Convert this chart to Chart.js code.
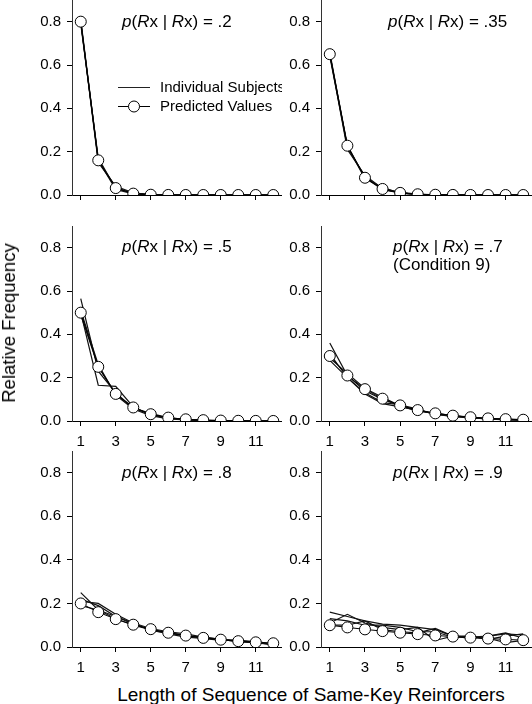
<!DOCTYPE html>
<html>
<head>
<meta charset="utf-8">
<script src="https://cdn.jsdelivr.net/npm/chart.js@4.4.1/dist/chart.umd.min.js"></script>
<style>
  html, body { margin: 0; padding: 0; background: #fff; }
  #wrap { position: relative; width: 532px; height: 704px; overflow: hidden; font-family: "Liberation Sans", Arial, sans-serif; color: #000; }
  canvas { position: absolute; }
  .ann { position: absolute; font-size: 17px; line-height: 18px; white-space: nowrap; }
  #ytitle { position: absolute; left: 9px; top: 323px; font-size: 18.5px; white-space: nowrap; transform: translate(-50%, -50%) rotate(-90deg); }
  #xtitle { position: absolute; left: 311px; top: 695px; font-size: 19px; white-space: nowrap; transform: translate(-50%, -50%); }
</style>
</head>
<body>
<div id="wrap">
  <canvas id="c1" width="282" height="225" style="left:0px;top:0px"></canvas>
  <canvas id="c2" width="283" height="225" style="left:249px;top:0px"></canvas>
  <canvas id="c3" width="282" height="225" style="left:0px;top:226px"></canvas>
  <canvas id="c4" width="283" height="225" style="left:249px;top:226px"></canvas>
  <canvas id="c5" width="282" height="226" style="left:0px;top:451px"></canvas>
  <canvas id="c6" width="283" height="226" style="left:249px;top:451px"></canvas>

  <div class="ann" style="left:122px;top:13px"><i>p</i>(<i>R</i>x | <i>R</i>x) = .2</div>
  <div class="ann" style="left:388px;top:13px"><i>p</i>(<i>R</i>x | <i>R</i>x) = .35</div>
  <div class="ann" style="left:122px;top:238px"><i>p</i>(<i>R</i>x | <i>R</i>x) = .5</div>
  <div class="ann" style="left:393px;top:238px"><i>p</i>(<i>R</i>x | <i>R</i>x) = .7<br>(Condition 9)</div>
  <div class="ann" style="left:122px;top:464px"><i>p</i>(<i>R</i>x | <i>R</i>x) = .8</div>
  <div class="ann" style="left:393px;top:464px"><i>p</i>(<i>R</i>x | <i>R</i>x) = .9</div>

  <div id="ytitle">Relative Frequency</div>
  <div id="xtitle">Length of Sequence of Same-Key Reinforcers</div>
</div>
<script>
// ---- categories / ticks ----
const lengths = [1, 2, 3, 4, 5, 6, 7, 8, 9, 10, 11, 12];
const xTickValues = [1, 3, 5, 7, 9, 11];
const yTickValues = [0, 0.2, 0.4, 0.6, 0.8];

// ---- p = .2 ----
const pred20 = [0.8, 0.16, 0.032, 0.0064, 0.0013, 0.0003, 0.0001, 0, 0, 0, 0, 0];
const subj20a = [0.80, 0.16, 0.035, 0.006, 0.001, 0, 0, 0, 0, 0, 0, 0];
const subj20b = [0.79, 0.17, 0.030, 0.008, 0.002, 0, 0, 0, 0, 0, 0, 0];
const subj20c = [0.80, 0.15, 0.040, 0.010, 0.002, 0, 0, 0, 0, 0, 0, 0];
const subj20d = [0.81, 0.16, 0.025, 0.005, 0.001, 0, 0, 0, 0, 0, 0, 0];

// ---- p = .35 ----
const pred35 = [0.65, 0.2275, 0.0796, 0.0279, 0.0098, 0.0034, 0.0012, 0.0004, 0.0001, 0, 0, 0];
const subj35a = [0.65, 0.23, 0.080, 0.025, 0.010, 0.003, 0.001, 0, 0, 0, 0, 0];
const subj35b = [0.65, 0.21, 0.090, 0.030, 0.012, 0.004, 0.001, 0, 0, 0, 0, 0];
const subj35c = [0.64, 0.225, 0.075, 0.035, 0.008, 0.002, 0.001, 0, 0, 0, 0, 0];
const subj35d = [0.66, 0.22, 0.085, 0.027, 0.010, 0.003, 0.001, 0, 0, 0, 0, 0];

// ---- p = .5 ----
const pred50 = [0.5, 0.25, 0.125, 0.0625, 0.0313, 0.0156, 0.0078, 0.0039, 0.002, 0.001, 0.0005, 0.0002];
const subj50a = [0.565, 0.23, 0.13, 0.060, 0.030, 0.012, 0.006, 0.003, 0.001, 0, 0, 0];
const subj50b = [0.50, 0.165, 0.16, 0.065, 0.028, 0.015, 0.005, 0.002, 0.001, 0, 0, 0];
const subj50c = [0.49, 0.25, 0.125, 0.060, 0.035, 0.015, 0.008, 0.004, 0.002, 0.001, 0, 0];
const subj50d = [0.51, 0.26, 0.12, 0.055, 0.025, 0.010, 0.005, 0.002, 0.001, 0, 0, 0];

// ---- p = .7 ----
const pred70 = [0.3, 0.21, 0.147, 0.103, 0.072, 0.0504, 0.0353, 0.0247, 0.0173, 0.0121, 0.0085, 0.0059];
const subj70a = [0.36, 0.21, 0.14, 0.10, 0.070, 0.050, 0.035, 0.025, 0.016, 0.010, 0.006, 0.004];
const subj70b = [0.28, 0.20, 0.13, 0.085, 0.075, 0.055, 0.030, 0.022, 0.015, 0.010, 0.008, 0.005];
const subj70c = [0.29, 0.22, 0.15, 0.11, 0.070, 0.045, 0.035, 0.025, 0.018, 0.012, 0.009, 0.006];
const subj70d = [0.31, 0.20, 0.125, 0.08, 0.065, 0.050, 0.032, 0.020, 0.014, 0.010, 0.005, 0.003];

// ---- p = .8 ----
const pred80 = [0.2, 0.16, 0.128, 0.1024, 0.0819, 0.0655, 0.0524, 0.0419, 0.0336, 0.0268, 0.0215, 0.0172];
const subj80a = [0.25, 0.17, 0.13, 0.10, 0.080, 0.065, 0.050, 0.045, 0.035, 0.025, 0.020, 0.012];
const subj80b = [0.21, 0.20, 0.15, 0.11, 0.085, 0.070, 0.060, 0.045, 0.035, 0.030, 0.020, 0.015];
const subj80c = [0.19, 0.17, 0.14, 0.11, 0.075, 0.065, 0.055, 0.040, 0.030, 0.030, 0.025, 0.015];
const subj80d = [0.22, 0.19, 0.14, 0.105, 0.080, 0.060, 0.045, 0.040, 0.035, 0.025, 0.020, 0.010];

// ---- p = .9 ----
const pred90 = [0.1, 0.09, 0.081, 0.0729, 0.0656, 0.059, 0.0531, 0.0478, 0.043, 0.0387, 0.0349, 0.0314];
const subj90a = [0.16, 0.14, 0.12, 0.105, 0.10, 0.09, 0.08, 0.05, 0.045, 0.05, 0.06, 0.055];
const subj90b = [0.11, 0.15, 0.11, 0.09, 0.08, 0.09, 0.03, 0.05, 0.04, 0.05, 0.065, 0.04];
const subj90c = [0.13, 0.12, 0.10, 0.10, 0.09, 0.07, 0.07, 0.045, 0.045, 0.04, 0.02, 0.03];
const subj90d = [0.10, 0.10, 0.12, 0.08, 0.07, 0.065, 0.085, 0.05, 0.05, 0.035, 0.05, 0.06];

const FONT = '"Liberation Sans", Arial, sans-serif';

const legendPlugin = {
  id: 'innerLegend',
  afterDraw(chart) {
    const ctx = chart.ctx;
    ctx.save();
    ctx.strokeStyle = '#222';
    ctx.lineWidth = 1;
    ctx.beginPath(); ctx.moveTo(118, 87.5); ctx.lineTo(150, 87.5); ctx.stroke();
    ctx.strokeStyle = '#000';
    ctx.beginPath(); ctx.moveTo(118, 106.5); ctx.lineTo(150, 106.5); ctx.stroke();
    ctx.beginPath(); ctx.arc(134, 106.5, 5.5, 0, Math.PI * 2);
    ctx.fillStyle = '#fff'; ctx.fill(); ctx.stroke();
    ctx.fillStyle = '#000';
    ctx.font = '15px ' + FONT;
    ctx.textBaseline = 'middle';
    ctx.textAlign = 'left';
    ctx.fillText('Individual Subjects', 160, 87.5);
    ctx.fillText('Predicted Values', 160, 106.5);
    ctx.restore();
  }
};

function toPts(arr) { return lengths.map((x, i) => ({ x: x, y: arr[i] })); }

function makePanel(id, pred, subjects, showX, withLegend) {
  const datasets = [{
    data: toPts(pred),
    borderColor: '#000', borderWidth: 1,
    pointRadius: 5.5, pointBackgroundColor: '#fff', pointBorderColor: '#000', pointBorderWidth: 1,
    tension: 0
  }];
  subjects.forEach(s => datasets.push({
    data: toPts(s), borderColor: '#111', borderWidth: 1.2, pointRadius: 0, tension: 0
  }));
  new Chart(document.getElementById(id), {
    type: 'line',
    data: { datasets: datasets },
    plugins: withLegend ? [legendPlugin] : [],
    options: {
      animation: false, responsive: false, devicePixelRatio: 1,
      layout: { padding: 0, autoPadding: false },
      plugins: { legend: { display: false }, tooltip: { enabled: false } },
      scales: {
        x: {
          type: 'linear', min: 0.5, max: 12.5,
          afterBuildTicks: s => { s.ticks = xTickValues.map(v => ({ value: v })); },
          afterFit: s => { s.height = 30; s.paddingLeft = 0; s.paddingRight = 0; },
          grid: { drawOnChartArea: false, tickLength: 5, color: '#000' },
          border: { color: '#000', width: 1 },
          ticks: { display: showX, color: '#000', padding: 7, font: { family: FONT, size: 15 }, callback: v => String(v) }
        },
        y: {
          min: 0, max: 0.9,
          afterBuildTicks: s => { s.ticks = yTickValues.map(v => ({ value: v })); },
          afterFit: s => { s.width = 72; s.paddingTop = 0; s.paddingBottom = 0; },
          grid: { drawOnChartArea: false, tickLength: 5, color: '#000' },
          border: { color: '#333', width: 1 },
          ticks: { color: '#000', padding: 6, font: { family: FONT, size: 15 }, callback: v => Number(v).toFixed(1) }
        }
      }
    }
  });
}

makePanel('c1', pred20, [subj20a, subj20b, subj20c, subj20d], false, true);
makePanel('c2', pred35, [subj35a, subj35b, subj35c, subj35d], false, false);
makePanel('c3', pred50, [subj50a, subj50b, subj50c, subj50d], true, false);
makePanel('c4', pred70, [subj70a, subj70b, subj70c, subj70d], true, false);
makePanel('c5', pred80, [subj80a, subj80b, subj80c, subj80d], true, false);
makePanel('c6', pred90, [subj90a, subj90b, subj90c, subj90d], true, false);
</script>
</body>
</html>
